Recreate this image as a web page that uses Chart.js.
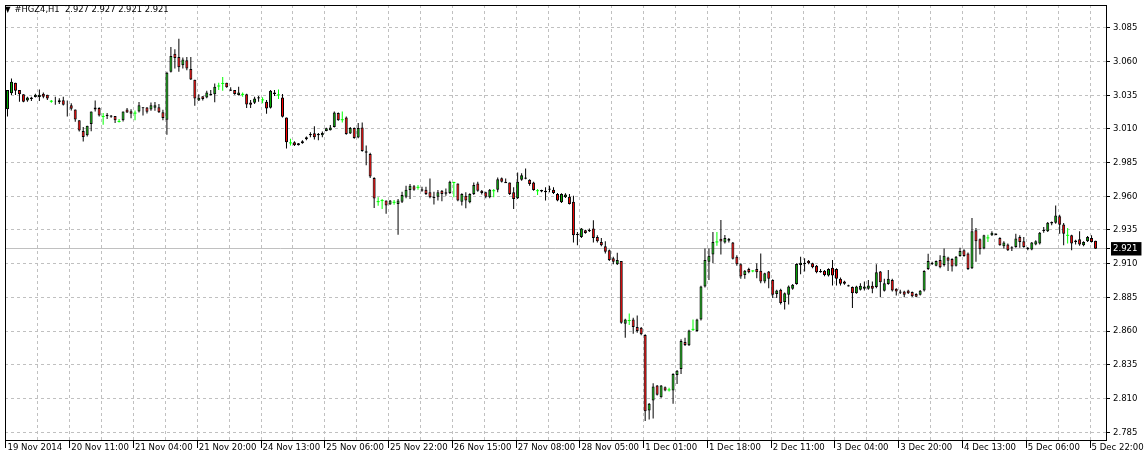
<!DOCTYPE html>
<html>
<head>
<meta charset="utf-8">
<script src="https://cdn.jsdelivr.net/npm/chart.js@4.4.1/dist/chart.umd.min.js"></script>
<style>
  html, body { margin: 0; padding: 0; background: #fff; overflow: hidden; }
  #wrap { position: relative; width: 1147px; height: 458px; }
  #head { position: absolute; left: 5px; top: 3px; font: 9.3px "DejaVu Sans Condensed", "DejaVu Sans", sans-serif; color: #000; white-space: pre; }
  #head .tri { font-size: 8px; margin-right: 4px; }
</style>
</head>
<body>
<div id="wrap">
  <canvas id="chart" width="1147" height="458"></canvas>
  <div id="head"><span class="tri">▼</span>#HGZ4,H1  2.927 2.927 2.921 2.921</div>
</div>
<script>
// time axis labels, one every 16 hourly bars
const timeLabels = ['19 Nov 2014', '20 Nov 11:00', '21 Nov 04:00', '21 Nov 20:00', '24 Nov 13:00',
  '25 Nov 06:00', '25 Nov 22:00', '26 Nov 15:00', '27 Nov 08:00', '28 Nov 05:00', '1 Dec 01:00',
  '1 Dec 18:00', '2 Dec 11:00', '3 Dec 04:00', '3 Dec 20:00', '4 Dec 13:00', '5 Dec 06:00', '5 Dec 22:00'];

// price scale labels
const priceTicks = [2.785, 2.810, 2.835, 2.860, 2.885, 2.910, 2.935, 2.960, 2.985, 3.010, 3.035, 3.060, 3.085];
const lastPrice = 2.921;

// H1 candles
const openVals = [
  3.0246, 3.0364, 3.0442, 3.0388, 3.0356, 3.0310, 3.0332, 3.0337, 3.0337, 3.0361,
  3.0354, 3.0305, 3.0302, 3.0312, 3.0312, 3.0283, 3.0276, 3.0244, 3.0163, 3.0084,
  3.0053, 3.0136, 3.0244, 3.0254, 3.0192, 3.0205, 3.0200, 3.0195, 3.0155, 3.0163,
  3.0244, 3.0231, 3.0217, 3.0229, 3.0261, 3.0258, 3.0244, 3.0256, 3.0261, 3.0224,
  3.0168, 3.0523, 3.0658, 3.0633, 3.0572, 3.0609, 3.0545, 3.0464, 3.0310, 3.0342,
  3.0332, 3.0361, 3.0356, 3.0418, 3.0437, 3.0442, 3.0393, 3.0388, 3.0352, 3.0356,
  3.0356, 3.0295, 3.0293, 3.0335, 3.0315, 3.0302, 3.0256, 3.0369, 3.0352, 3.0332,
  3.0185, 2.9996, 3.0001, 2.9994, 2.9994, 3.0023, 3.0052, 3.0067, 3.0062, 3.0053,
  3.0084, 3.0089, 3.0114, 3.0217, 3.0168, 3.0185, 3.0065, 3.0106, 3.0035, 3.0111,
  2.9933, 2.9913, 2.9736, 2.9560, 2.9568, 2.9568, 2.9538, 2.9555, 2.9543, 2.9560,
  2.9597, 2.9646, 2.9675, 2.9666, 2.9651, 2.9648, 2.9629, 2.9597, 2.9597, 2.9641,
  2.9619, 2.9624, 2.9702, 2.9695, 2.9560, 2.9604, 2.9555, 2.9617, 2.9695, 2.9641,
  2.9629, 2.9592, 2.9641, 2.9648, 2.9734, 2.9707, 2.9702, 2.9629, 2.9585, 2.9722,
  2.9739, 2.9722, 2.9702, 2.9641, 2.9646, 2.9629, 2.9648, 2.9648, 2.9617, 2.9555,
  2.9592, 2.9597, 2.9560, 2.9322, 2.9298, 2.9347, 2.9350, 2.9360, 2.9298, 2.9261,
  2.9229, 2.9200, 2.9139, 2.9095, 2.9119, 2.8653, 2.8678, 2.8685, 2.8629, 2.8624,
  2.8570, 2.8011, 2.8085, 2.8195, 2.8109, 2.8183, 2.8163, 2.8158, 2.8274, 2.8318,
  2.8519, 2.8494, 2.8612, 2.8600, 2.8685, 2.8930, 2.9114, 2.9168, 2.9261, 2.9284,
  2.9256, 2.9284, 2.9256, 2.9151, 2.9095, 2.9016, 2.9060, 2.9046, 2.9060, 2.9048,
  2.8967, 2.9041, 2.8979, 2.8874, 2.8906, 2.8815, 2.8869, 2.8913, 2.8948, 2.9090,
  2.9107, 2.9122, 2.9102, 2.9085, 2.9046, 2.9048, 2.9011, 2.9070, 2.9060, 2.8987,
  2.8967, 2.8940, 2.8926, 2.8881, 2.8906, 2.8913, 2.8913, 2.8935, 2.8926, 2.9041,
  2.8899, 2.8948, 2.8979, 2.8913, 2.8894, 2.8894, 2.8901, 2.8889, 2.8874, 2.8869,
  2.8901, 2.9060, 2.9107, 2.9085, 2.9127, 2.9090, 2.9146, 2.9134, 2.9085, 2.9156,
  2.9200, 2.9176, 2.9065, 2.9347, 2.9281, 2.9212, 2.9291, 2.9310, 2.9323, 2.9291,
  2.9229, 2.9242, 2.9222, 2.9224, 2.9298, 2.9266, 2.9217, 2.9205, 2.9242, 2.9249,
  2.9342, 2.9340, 2.9398, 2.9403, 2.9452, 2.9391, 2.9310, 2.9310, 2.9271, 2.9281,
  2.9237, 2.9266, 2.9291, 2.927
];
const highVals = [
  3.0388, 3.0474, 3.0442, 3.0388, 3.0356, 3.0339, 3.0339, 3.0361, 3.0393, 3.0369,
  3.0354, 3.0315, 3.0339, 3.0327, 3.0339, 3.0310, 3.0290, 3.0244, 3.0163, 3.0114,
  3.0124, 3.0229, 3.0310, 3.0261, 3.0217, 3.0217, 3.0202, 3.0195, 3.0173, 3.0229,
  3.0254, 3.0246, 3.0236, 3.0300, 3.0263, 3.0263, 3.0295, 3.0300, 3.0285, 3.0241,
  3.0523, 3.0707, 3.0690, 3.0768, 3.0629, 3.0633, 3.0633, 3.0464, 3.0356, 3.0342,
  3.0383, 3.0388, 3.0437, 3.0442, 3.0484, 3.0442, 3.0408, 3.0388, 3.0413, 3.0369,
  3.0361, 3.0315, 3.0339, 3.0344, 3.0334, 3.0315, 3.0388, 3.0388, 3.0393, 3.0359,
  3.0185, 3.0026, 3.0008, 2.9996, 3.0016, 3.0043, 3.0075, 3.0119, 3.0070, 3.0080,
  3.0109, 3.0129, 3.0229, 3.0222, 3.0229, 3.0192, 3.0114, 3.0111, 3.0143, 3.0148,
  2.9977, 2.9923, 2.9741, 2.9592, 2.9580, 2.9568, 2.9573, 2.9573, 2.9580, 2.9634,
  2.9678, 2.9690, 2.9683, 2.9683, 2.9671, 2.9671, 2.9732, 2.9634, 2.9646, 2.9646,
  2.9658, 2.9715, 2.9707, 2.9695, 2.9622, 2.9629, 2.9622, 2.9702, 2.9707, 2.9646,
  2.9634, 2.9653, 2.9653, 2.9739, 2.9739, 2.9732, 2.9702, 2.9666, 2.9776, 2.9771,
  2.9805, 2.9727, 2.9707, 2.9653, 2.9648, 2.9666, 2.9678, 2.9666, 2.9624, 2.9622,
  2.9622, 2.9617, 2.9604, 2.9335, 2.9364, 2.9352, 2.9360, 2.9421, 2.9310, 2.9291,
  2.9266, 2.9205, 2.9151, 2.9180, 2.9119, 2.8690, 2.8729, 2.8698, 2.8715, 2.8629,
  2.8575, 2.8065, 2.8212, 2.8200, 2.8200, 2.8188, 2.8178, 2.8286, 2.8310, 2.8538,
  2.8550, 2.8609, 2.8685, 2.8690, 2.8935, 2.9212, 2.9212, 2.9335, 2.9335, 2.9423,
  2.9313, 2.9291, 2.9260, 2.9163, 2.9102, 2.9053, 2.9070, 2.9050, 2.9102, 2.9176,
  2.9033, 2.9046, 2.8984, 2.8906, 2.8913, 2.8886, 2.8938, 2.8948, 2.9102, 2.9151,
  2.9139, 2.9127, 2.9107, 2.9090, 2.9060, 2.9053, 2.9065, 2.9127, 2.9065, 2.8997,
  2.8972, 2.8943, 2.8930, 2.8935, 2.8955, 2.8967, 2.8979, 2.8967, 2.9095, 2.9046,
  2.8987, 2.9053, 2.8987, 2.8918, 2.8906, 2.8899, 2.8906, 2.8894, 2.8881, 2.8904,
  2.9050, 2.9173, 2.9114, 2.9124, 2.9163, 2.9212, 2.9151, 2.9139, 2.9156, 2.9217,
  2.9207, 2.9183, 2.9438, 2.9364, 2.9286, 2.9315, 2.9315, 2.9340, 2.9325, 2.9296,
  2.9266, 2.9249, 2.9229, 2.9322, 2.9310, 2.9298, 2.9224, 2.9261, 2.9273, 2.9335,
  2.9371, 2.9408, 2.9413, 2.9531, 2.9462, 2.9401, 2.9364, 2.9315, 2.9278, 2.9340,
  2.9266, 2.9305, 2.9310, 2.927
];
const lowVals = [
  3.0192, 3.0352, 3.0352, 3.0302, 3.0298, 3.0302, 3.0307, 3.0332, 3.0307, 3.0327,
  3.0315, 3.0293, 3.0278, 3.0285, 3.0273, 3.0192, 3.0236, 3.0153, 3.0080, 3.0006,
  3.0043, 3.0082, 3.0229, 3.0192, 3.0131, 3.0173, 3.0182, 3.0143, 3.0148, 3.0155,
  3.0217, 3.0178, 3.0163, 3.0222, 3.0200, 3.0214, 3.0234, 3.0234, 3.0217, 3.0163,
  3.0057, 3.0518, 3.0548, 3.0523, 3.0548, 3.0535, 3.0462, 3.0271, 3.0307, 3.0310,
  3.0327, 3.0347, 3.0298, 3.0388, 3.0383, 3.0405, 3.0381, 3.0354, 3.0347, 3.0339,
  3.0254, 3.0254, 3.0285, 3.0302, 3.0290, 3.0212, 3.0251, 3.0344, 3.0322, 3.0185,
  2.9955, 2.9977, 2.9972, 2.9977, 2.9989, 3.0016, 3.0038, 3.0021, 3.0016, 3.0038,
  3.0082, 3.0087, 3.0111, 3.0160, 3.0148, 3.0057, 3.0062, 3.0026, 3.0030, 2.9930,
  2.9830, 2.9736, 2.9513, 2.9530, 2.9506, 2.9470, 2.9536, 2.9536, 2.9315, 2.9550,
  2.9585, 2.9580, 2.9641, 2.9648, 2.9634, 2.9609, 2.9585, 2.9538, 2.9568, 2.9563,
  2.9604, 2.9617, 2.9592, 2.9563, 2.9531, 2.9511, 2.9548, 2.9609, 2.9634, 2.9612,
  2.9585, 2.9585, 2.9592, 2.9629, 2.9702, 2.9698, 2.9609, 2.9506, 2.9580, 2.9715,
  2.9727, 2.9678, 2.9641, 2.9609, 2.9629, 2.9568, 2.9629, 2.9617, 2.9563, 2.9550,
  2.9587, 2.9538, 2.9256, 2.9237, 2.9291, 2.9322, 2.9335, 2.9256, 2.9256, 2.9229,
  2.9175, 2.9119, 2.9095, 2.9090, 2.8653, 2.8550, 2.8644, 2.8580, 2.8587, 2.8568,
  2.7933, 2.7943, 2.7950, 2.8122, 2.8104, 2.8153, 2.8151, 2.8060, 2.8207, 2.8281,
  2.8489, 2.8489, 2.8600, 2.8595, 2.8678, 2.8923, 2.8979, 2.9102, 2.9232, 2.9168,
  2.9250, 2.9256, 2.9130, 2.9085, 2.8987, 2.8987, 2.9029, 2.9036, 2.8992, 2.8955,
  2.8955, 2.8918, 2.8845, 2.8845, 2.8796, 2.8759, 2.8796, 2.8906, 2.8943, 2.9021,
  2.9041, 2.9095, 2.9065, 2.9029, 2.9033, 2.9007, 2.9004, 2.8938, 2.8938, 2.8938,
  2.8943, 2.8930, 2.8771, 2.8876, 2.8901, 2.8901, 2.8906, 2.8881, 2.8918, 2.8850,
  2.8894, 2.8943, 2.8894, 2.8864, 2.8874, 2.8850, 2.8874, 2.8852, 2.8850, 2.8864,
  2.8894, 2.9053, 2.9090, 2.9080, 2.9065, 2.9078, 2.9046, 2.9041, 2.9078, 2.9151,
  2.9151, 2.9053, 2.9060, 2.9114, 2.9168, 2.9207, 2.9261, 2.9305, 2.9310, 2.9232,
  2.9212, 2.9193, 2.9193, 2.9217, 2.9217, 2.9217, 2.9200, 2.9200, 2.9237, 2.9242,
  2.9330, 2.9335, 2.9384, 2.9396, 2.9322, 2.9237, 2.9249, 2.9200, 2.9242, 2.9232,
  2.9229, 2.9261, 2.9256, 2.921
];
const closeVals = [
  3.0388, 3.0450, 3.0383, 3.0356, 3.0302, 3.0332, 3.0322, 3.0354, 3.0354, 3.0339,
  3.0325, 3.0305, 3.0300, 3.0298, 3.0278, 3.0280, 3.0249, 3.0170, 3.0087, 3.0040,
  3.0124, 3.0229, 3.0258, 3.0200, 3.0192, 3.0195, 3.0190, 3.0163, 3.0155, 3.0229,
  3.0222, 3.0212, 3.0217, 3.0276, 3.0253, 3.0227, 3.0276, 3.0276, 3.0224, 3.0180,
  3.0516, 3.0641, 3.0626, 3.0557, 3.0614, 3.0548, 3.0467, 3.0325, 3.0330, 3.0322,
  3.0369, 3.0351, 3.0413, 3.0418, 3.0437, 3.0408, 3.0383, 3.0359, 3.0369, 3.0356,
  3.0280, 3.0278, 3.0325, 3.0325, 3.0315, 3.0251, 3.0383, 3.0359, 3.0352, 3.0190,
  3.0001, 2.9996, 2.9979, 2.9979, 3.0008, 3.0038, 3.0062, 3.0038, 3.0052, 3.0070,
  3.0104, 3.0111, 3.0222, 3.0163, 3.0168, 3.0062, 3.0106, 3.0033, 3.0106, 2.9935,
  2.9923, 2.9746, 2.9584, 2.9560, 2.9568, 2.9531, 2.9568, 2.9555, 2.9568, 2.9609,
  2.9648, 2.9678, 2.9648, 2.9666, 2.9641, 2.9617, 2.9592, 2.9587, 2.9629, 2.9617,
  2.9629, 2.9707, 2.9702, 2.9568, 2.9617, 2.9568, 2.9617, 2.9683, 2.9641, 2.9624,
  2.9597, 2.9648, 2.9641, 2.9727, 2.9707, 2.9697, 2.9617, 2.9580, 2.9707, 2.9756,
  2.9729, 2.9690, 2.9646, 2.9641, 2.9636, 2.9641, 2.9658, 2.9624, 2.9568, 2.9617,
  2.9612, 2.9543, 2.9310, 2.9312, 2.9360, 2.9327, 2.9340, 2.9291, 2.9266, 2.9237,
  2.9188, 2.9126, 2.9114, 2.9126, 2.8661, 2.8685, 2.8678, 2.8629, 2.8600, 2.8575,
  2.8004, 2.8060, 2.8188, 2.8127, 2.8195, 2.8158, 2.8163, 2.8281, 2.8305, 2.8526,
  2.8497, 2.8604, 2.8612, 2.8685, 2.8930, 2.9126, 2.9158, 2.9261, 2.9261, 2.9265,
  2.9291, 2.9269, 2.9136, 2.9095, 2.9004, 2.9048, 2.9036, 2.9046, 2.9036, 2.8967,
  2.9029, 2.8987, 2.8869, 2.8901, 2.8808, 2.8881, 2.8930, 2.8943, 2.9097, 2.9107,
  2.9097, 2.9102, 2.9073, 2.9036, 2.9036, 2.9016, 2.9060, 2.9011, 2.8987, 2.8950,
  2.8950, 2.8930, 2.8881, 2.8930, 2.8935, 2.8930, 2.8938, 2.8913, 2.9036, 2.8962,
  2.8955, 2.8987, 2.8901, 2.8894, 2.8884, 2.8869, 2.8881, 2.8857, 2.8855, 2.8899,
  2.9046, 2.9119, 2.9097, 2.9119, 2.9073, 2.9158, 2.9122, 2.9078, 2.9151, 2.9193,
  2.9156, 2.9060, 2.9340, 2.9266, 2.9207, 2.9310, 2.9291, 2.9330, 2.9313, 2.9237,
  2.9256, 2.9200, 2.9212, 2.9286, 2.9261, 2.9224, 2.9207, 2.9256, 2.9266, 2.9330,
  2.9352, 2.9403, 2.9408, 2.9457, 2.9389, 2.9322, 2.9310, 2.9249, 2.9261, 2.9242,
  2.9261, 2.9298, 2.9261, 2.921
];

const bullColor = '#00b000';
const bearColor = '#ff0000';
const dojiColor = '#00ff00';
const gridColor = '#c0c0c0';

const barIndex = openVals.map((v, i) => i);
const isDoji = i => openVals[i] === closeVals[i];

const wickData = barIndex.map(i => ({ x: i, y: [lowVals[i], highVals[i]] }));
const bodyData = barIndex.filter(i => !isDoji(i)).map(i => ({ x: i, y: [openVals[i], closeVals[i]] }));
const dojiData = barIndex.filter(isDoji).map(i => ({ x: i, y: openVals[i] }));

const axisTicks = priceTicks.concat([lastPrice]).sort((a, b) => a - b);

// time ticks sit just left of their bar, like the terminal draws them
const tickShift = -0.375;

// outline round the plot area (left and top edges)
const frame = {
  id: 'frame',
  afterDraw(chart) {
    const a = chart.chartArea;
    const ctx = chart.ctx;
    ctx.save();
    ctx.strokeStyle = '#000';
    ctx.lineWidth = 1;
    ctx.strokeRect(Math.floor(a.left) + 0.5, Math.floor(a.top) + 0.5, Math.round(a.right - a.left), Math.round(a.bottom - a.top));
    ctx.restore();
  }
};

Chart.defaults.font.family = '"DejaVu Sans Condensed", "DejaVu Sans", sans-serif';
Chart.defaults.font.size = 9.5;
Chart.defaults.color = '#000';

new Chart(document.getElementById('chart'), {
  type: 'bar',
  data: {
    datasets: [
      {
        type: 'line',
        data: dojiData,
        showLine: false,
        pointStyle: 'line',
        pointRadius: 1.5,
        pointBorderWidth: 1,
        pointBorderColor: dojiColor,
        order: 1
      },
      {
        data: bodyData,
        grouped: false,
        barThickness: 3,
        borderWidth: 1,
        borderColor: '#000',
        borderSkipped: false,
        inflateAmount: 0,
        backgroundColor: ctx => {
          const r = ctx.raw;
          return r && r.y[1] > r.y[0] ? bullColor : bearColor;
        },
        order: 2
      },
      {
        data: wickData,
        grouped: false,
        barThickness: 1,
        borderWidth: 0,
        inflateAmount: 0,
        backgroundColor: ctx => isDoji(ctx.dataIndex) ? dojiColor : '#000',
        order: 3
      }
    ]
  },
  options: {
    responsive: false,
    devicePixelRatio: 1,
    animation: false,
    events: [],
    layout: { padding: { left: 1, top: 1, right: 0, bottom: 0 } },
    plugins: { legend: { display: false }, tooltip: { enabled: false } },
    scales: {
      x: {
        type: 'linear',
        offset: false,
        min: -0.625,
        max: 275.625,
        afterBuildTicks: axis => {
          const t = [];
          for (let v = 0; v <= 272; v += 8) t.push({ value: v + tickShift });
          axis.ticks = t;
        },
        afterFit: axis => {
          axis.height = 18;
          axis.paddingLeft = 0;
          axis.paddingRight = 0;
        },
        ticks: {
          autoSkip: false,
          maxRotation: 0,
          align: 'start',
          labelOffset: 1.5,
          padding: -6,
          callback: v => {
            const bar = Math.round(v - tickShift);
            return bar % 16 === 0 ? timeLabels[bar / 16] : '';
          }
        },
        grid: {
          offset: false,
          color: ctx => (ctx.tick && ctx.index === 0 ? 'transparent' : gridColor),
          tickColor: ctx => (ctx.tick && ctx.index % 2 === 0 ? '#000' : 'transparent'),
          tickLength: 8,
          tickBorderDash: []
        },
        border: { color: '#000', dash: [3, 3] }
      },
      y: {
        type: 'linear',
        position: 'right',
        min: 2.779118,
        max: 3.101912,
        afterBuildTicks: axis => {
          axis.ticks = axisTicks.map(v => ({ value: v }));
        },
        afterFit: axis => {
          axis.width = 41;
          axis.paddingTop = 0;
          axis.paddingBottom = 0;
        },
        ticks: {
          autoSkip: false,
          padding: 3,
          callback: v => v.toFixed(3),
          color: ctx => (ctx.tick && ctx.tick.value === lastPrice ? '#fff' : '#000'),
          showLabelBackdrop: ctx => !!(ctx.tick && ctx.tick.value === lastPrice),
          backdropColor: '#000',
          backdropPadding: { left: 2, right: 4, top: 1, bottom: 1 }
        },
        grid: {
          color: gridColor,
          tickColor: '#000',
          tickLength: 4,
          tickBorderDash: []
        },
        border: {
          color: '#000',
          dash: ctx => (ctx.tick && ctx.tick.value === lastPrice ? [] : [3, 3])
        }
      }
    }
  },
  plugins: [frame]
});
</script>
</body>
</html>
